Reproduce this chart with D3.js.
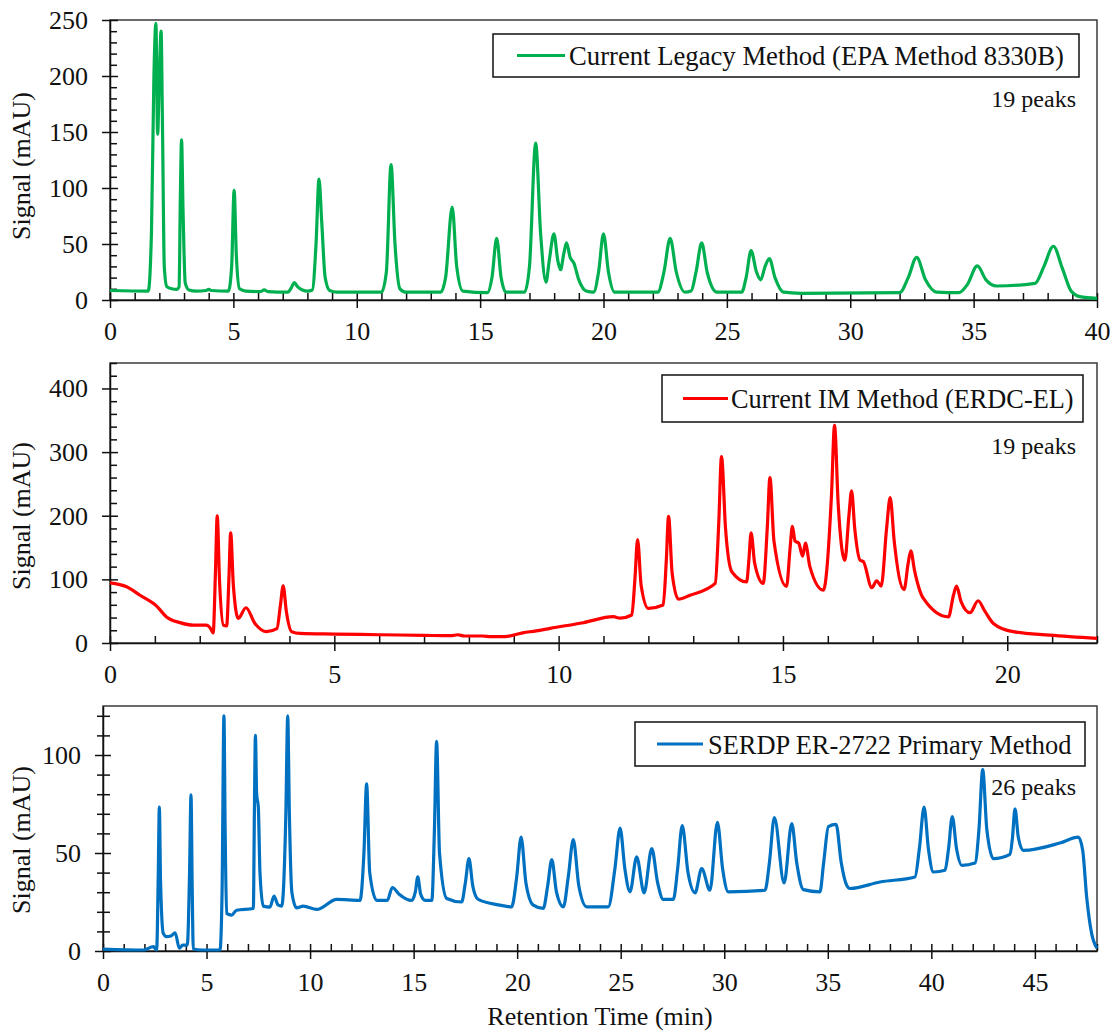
<!DOCTYPE html>
<html>
<head>
<meta charset="utf-8">
<script src="https://cdn.jsdelivr.net/npm/d3@7"></script>
<style>
  html, body { margin: 0; padding: 0; background: #fff; }
  svg { display: block; }
</style>
</head>
<body>
<svg id="chart" width="1116" height="1032"></svg>
<script>
// ---------------- DATA ----------------
// [retention time (min), signal (mAU)]
const legacyTrace = [
  [0, 8.5], [1.55, 8], [1.68, 60], [1.78, 200], [1.86, 247], [1.93, 148], [2.0, 200], [2.07, 240],
  [2.13, 150], [2.2, 30], [2.3, 12], [2.5, 10], [2.7, 9.5], [2.8, 12], [2.85, 90], [2.9, 143],
  [2.96, 80], [3.05, 15], [3.2, 9], [3.5, 8], [3.9, 8.5], [4.0, 9.5], [4.1, 8.5], [4.8, 8],
  [4.93, 30], [5.03, 98], [5.12, 40], [5.25, 10], [5.5, 8], [6.1, 7.5], [6.25, 9], [6.4, 7.5],
  [7.2, 7], [7.35, 11], [7.47, 15.5], [7.6, 12], [7.8, 9], [8.0, 8], [8.2, 9], [8.35, 50],
  [8.47, 108], [8.58, 70], [8.72, 20], [8.9, 8.5], [9.2, 7], [11.0, 7], [11.2, 25], [11.39, 121],
  [11.55, 50], [11.75, 10], [12.0, 7], [13.4, 7], [13.6, 20], [13.87, 83], [14.05, 30], [14.3, 8],
  [15.3, 6.5], [15.48, 20], [15.67, 55], [15.85, 20], [16.05, 7], [16.8, 7], [17.0, 30], [17.25, 140],
  [17.45, 60], [17.67, 16], [17.8, 35], [17.99, 59], [18.15, 35], [18.26, 27], [18.38, 40], [18.5, 51],
  [18.65, 38], [18.8, 33], [19.0, 18], [19.3, 8], [19.6, 7], [19.8, 25], [20.0, 59], [20.2, 25],
  [20.45, 7], [22.2, 7], [22.45, 25], [22.7, 55], [22.95, 25], [23.3, 7], [23.55, 8], [23.75, 25],
  [23.98, 51], [24.2, 25], [24.6, 7], [25.6, 7], [25.78, 20], [25.98, 44], [26.2, 25], [26.37, 18],
  [26.55, 30], [26.72, 37], [26.95, 20], [27.3, 7], [28, 6], [32.0, 6.5], [32.35, 20], [32.69, 38],
  [33.05, 18], [33.5, 7], [34.4, 6.5], [34.75, 14], [35.15, 30.4], [35.5, 18], [35.93, 12.5],
  [37.49, 14.9], [37.85, 30], [38.23, 48], [38.6, 28], [38.95, 8], [39.3, 3], [40, 1.5]
];

const imTrace = [
  [0, 94.6], [0.37, 88.4], [0.67, 75], [1.04, 58], [1.26, 41], [1.56, 32], [1.86, 28], [2.15, 28],
  [2.23, 24], [2.3, 16], [2.35, 110], [2.39, 200], [2.44, 100], [2.53, 28], [2.6, 27], [2.65, 100],
  [2.69, 173], [2.75, 90], [2.86, 38.7], [3.03, 55.4], [3.23, 30.8], [3.49, 17.8], [3.72, 22.5],
  [3.8, 60], [3.86, 90], [3.93, 50], [4.05, 17.8], [4.24, 15], [5, 14], [6, 13], [7, 12],
  [7.6, 11.5], [7.75, 13], [7.9, 11], [8.3, 11], [8.5, 10], [8.8, 10], [9.2, 16], [9.5, 19],
  [9.81, 23], [10.55, 31.9], [11.22, 41.3], [11.37, 39], [11.63, 44], [11.7, 100], [11.76, 162.6],
  [11.84, 90], [12.0, 54.4], [12.33, 59.6], [12.4, 130], [12.45, 199], [12.53, 110], [12.67, 69],
  [12.93, 75], [13.49, 93.6], [13.57, 190], [13.63, 293], [13.72, 180], [13.86, 112], [14.19, 96],
  [14.24, 130], [14.29, 173], [14.37, 125], [14.56, 93.6], [14.65, 180], [14.71, 260], [14.8, 160],
  [15.08, 89], [15.16, 150], [15.21, 183.5], [15.27, 160], [15.35, 157], [15.44, 136.5], [15.5, 157],
  [15.6, 120], [15.9, 83], [16.08, 230], [16.15, 342], [16.23, 220], [16.38, 130], [16.47, 200],
  [16.53, 239], [16.6, 180], [16.72, 130], [16.79, 128], [16.98, 87], [17.09, 97.7], [17.19, 89.4],
  [17.31, 180], [17.39, 228.5], [17.48, 160], [17.7, 84], [17.79, 125], [17.85, 145], [17.93, 115],
  [18.13, 70], [18.69, 41], [18.8, 75], [18.87, 89.4], [18.97, 65], [19.17, 47.6], [19.35, 66.4],
  [19.5, 50], [19.69, 30.8], [20.13, 17.8], [20.95, 12.5], [22, 7.3]
];

const serdpTrace = [
  [0, 1], [1.95, 0.5], [2.43, 2.2], [2.59, 0.5], [2.67, 40], [2.72, 73.4], [2.78, 35], [2.91, 9],
  [3.07, 7.3], [3.3, 7.8], [3.48, 9.3], [3.69, 1.4], [3.85, 3], [4.07, 3], [4.18, 40], [4.25, 79.7],
  [4.31, 30], [4.36, 1], [4.78, 0.5], [5.65, 0.5], [5.75, 30], [5.84, 120], [5.9, 60], [5.97, 19.2],
  [6.21, 18.3], [6.45, 20.8], [7.26, 21.7], [7.31, 70], [7.36, 110], [7.42, 80], [7.5, 73.4],
  [7.58, 40], [7.74, 22.9], [8.06, 22.4], [8.26, 28], [8.45, 23.5], [8.63, 22.9], [8.83, 70],
  [8.92, 120], [9.0, 70], [9.12, 30], [9.35, 22], [9.67, 22.9], [10.32, 21.2], [11.29, 26.3],
  [12.41, 25.8], [12.6, 50], [12.73, 85.3], [12.88, 40], [13.22, 25.8], [13.73, 25.8], [13.97, 32.4],
  [14.3, 29], [14.9, 25.8], [15.08, 30], [15.2, 37.8], [15.34, 29], [15.56, 25.8], [15.88, 25.8],
  [16.0, 60], [16.11, 107], [16.25, 50], [16.6, 26.8], [17.32, 25], [17.5, 35], [17.67, 47.1],
  [17.86, 33], [18.12, 26.3], [19.17, 23.4], [19.73, 22.5], [19.98, 38], [20.19, 58.1], [20.42, 35],
  [20.78, 23.4], [21.26, 21.7], [21.47, 33], [21.67, 46.6], [21.9, 30], [22.23, 22.5], [22.47, 38],
  [22.71, 56.8], [22.98, 33], [23.36, 22.5], [24.4, 22.5], [24.72, 42], [24.97, 62.7], [25.2, 42],
  [25.45, 30.2], [25.77, 48], [26.13, 29.7], [26.5, 52.2], [26.78, 35], [27.06, 26.3], [27.54, 26.3],
  [27.75, 42], [27.97, 64], [28.25, 40], [28.59, 29.7], [28.91, 42], [29.31, 31], [29.67, 65.7],
  [29.92, 42], [30.2, 30.2], [31.97, 31], [32.18, 45], [32.42, 68], [32.89, 34.7], [33.26, 65],
  [33.5, 45], [33.82, 31.3], [34.62, 30.2], [34.8, 45], [35.03, 63.5], [35.4, 64.6], [35.65, 45],
  [35.91, 33.6], [36.07, 31.9], [37.52, 35.2], [39.21, 37.8], [39.42, 52], [39.65, 73.4], [39.86, 52],
  [40.1, 40.3], [40.66, 41.2], [40.83, 52], [41.01, 68.6], [41.22, 52], [41.47, 43.7], [42.11, 44.9],
  [42.3, 62], [42.48, 92.5], [42.68, 62], [43.0, 47.1], [43.8, 49.3], [43.92, 58], [44.04, 72.5],
  [44.2, 58], [44.44, 51.3], [46.21, 55.1], [47.1, 58.1], [47.31, 51.3], [47.5, 27.6], [47.74, 9],
  [48, 1.4]
];

// axis ticks
const legacyXMajor = [0, 5, 10, 15, 20, 25, 30, 35, 40];
const legacyYMajor = [0, 50, 100, 150, 200, 250];
const imXMajor = [0, 5, 10, 15, 20];
const imYMajor = [0, 100, 200, 300, 400];
const serdpXMajor = [0, 5, 10, 15, 20, 25, 30, 35, 40, 45];
const serdpYMajor = [0, 50, 100];

const legendLabels = [
  "Current Legacy Method (EPA Method 8330B)",
  "Current IM Method (ERDC-EL)",
  "SERDP ER-2722 Primary Method"
];
const peakLabels = ["19 peaks", "19 peaks", "26 peaks"];

// ---------------- LAYOUT ----------------
const FONT = "'Liberation Serif', 'Times New Roman', Times, serif";
const svg = d3.select("#chart");

const panels = [
  {
    data: legacyTrace, color: "#00B050",
    xDomain: [0, 40], xMajor: legacyXMajor, xMinorStep: 1,
    yDomain: [0, 250], yMajor: legacyYMajor, yMinorStep: 10,
    rect: { l: 110, r: 1097, t: 20, b: 300 },
    yMinorOut: 0,
    legend: { x0: 493, x1: 1079, y0: 34, y1: 77, lx0: 517, lx1: 565, tx: 569, fs: 26.7 },
    peaksY: 107, labelCy: 166
  },
  {
    data: imTrace, color: "#FF0000",
    xDomain: [0, 22], xMajor: imXMajor, xMinorStep: 1,
    yDomain: [0, 440], yMajor: imYMajor, yMinorStep: 20,
    rect: { l: 110, r: 1097, t: 363, b: 643 },
    yMinorOut: 0,
    legend: { x0: 662, x1: 1083, y0: 375, y1: 422, lx0: 683, lx1: 728, tx: 731, fs: 26.3 },
    peaksY: 454, labelCy: 516
  },
  {
    data: serdpTrace, color: "#0070C0",
    xDomain: [0, 48], xMajor: serdpXMajor, xMinorStep: 1,
    yDomain: [0, 125], yMajor: serdpYMajor, yMinorStep: 10,
    rect: { l: 103, r: 1097, t: 706, b: 951 },
    yMinorOut: 6,
    legend: { x0: 635, x1: 1085, y0: 722, y1: 766, lx0: 657, lx1: 703, tx: 708, fs: 26.4 },
    peaksY: 795, labelCy: 840
  }
];

panels.forEach((p, i) => {
  const R = p.rect;
  const x = d3.scaleLinear().domain(p.xDomain).range([R.l, R.r]);
  const y = d3.scaleLinear().domain(p.yDomain).range([R.b, R.t]);

  const g = svg.append("g");

  // clip
  const clipId = "clip" + i;
  g.append("clipPath").attr("id", clipId)
    .append("rect").attr("x", R.l).attr("y", R.t - 2)
    .attr("width", R.r - R.l + 2).attr("height", R.b - R.t + 4);

  // frame
  g.append("rect")
    .attr("x", R.l).attr("y", R.t)
    .attr("width", R.r - R.l).attr("height", R.b - R.t)
    .attr("fill", "none").attr("stroke", "#3a3a3a").attr("stroke-width", 1.5);

  // minor ticks
  const xMinor = d3.range(p.xDomain[0], p.xDomain[1] + 1e-9, p.xMinorStep)
    .filter(v => !p.xMajor.includes(v));
  const yMinor = d3.range(p.yDomain[0], p.yDomain[1] + 1e-9, p.yMinorStep)
    .filter(v => !p.yMajor.includes(v));

  const gxMinor = g.append("g").attr("transform", `translate(0,${R.b})`)
    .call(d3.axisBottom(x).tickValues(xMinor).tickSize(-7).tickFormat(""));
  gxMinor.select(".domain").remove();

  const gyMinor = g.append("g").attr("transform", `translate(${R.l},0)`)
    .call(d3.axisLeft(y).tickValues(yMinor).tickSize(-7).tickFormat(""));
  gyMinor.select(".domain").remove();
  gyMinor.selectAll(".tick line").attr("x1", -p.yMinorOut).attr("x2", 7);

  // major axes
  const gx = g.append("g").attr("transform", `translate(0,${R.b})`)
    .call(d3.axisBottom(x).tickValues(p.xMajor).tickSize(8).tickPadding(13.5).tickSizeOuter(0));
  gx.selectAll(".tick line").attr("y1", -7).attr("y2", 8);

  const gy = g.append("g").attr("transform", `translate(${R.l},0)`)
    .call(d3.axisLeft(y).tickValues(p.yMajor).tickSize(8).tickPadding(14).tickSizeOuter(0));
  gy.selectAll(".tick line").attr("x1", 8);

  [gx, gy, gxMinor, gyMinor].forEach(a => {
    a.attr("font-family", FONT).attr("font-size", 26);
    a.selectAll("line").attr("stroke", "#111").attr("stroke-width", 1.5);
    a.selectAll(".domain").attr("stroke", "#111").attr("stroke-width", 1.5);
    a.selectAll("text").attr("fill", "#111");
  });

  // data line
  const line = d3.line()
    .x(d => x(d[0])).y(d => y(d[1]))
    .curve(d3.curveMonotoneX);
  g.append("path")
    .datum(p.data)
    .attr("clip-path", `url(#${clipId})`)
    .attr("d", line)
    .attr("fill", "none")
    .attr("stroke", p.color)
    .attr("stroke-width", 3.2)
    .attr("stroke-linejoin", "round");

  // legend
  const L = p.legend;
  const cy = (L.y0 + L.y1) / 2;
  g.append("rect")
    .attr("x", L.x0).attr("y", L.y0)
    .attr("width", L.x1 - L.x0).attr("height", L.y1 - L.y0)
    .attr("fill", "#fff").attr("stroke", "#111").attr("stroke-width", 1.5);
  g.append("line")
    .attr("x1", L.lx0).attr("x2", L.lx1).attr("y1", cy).attr("y2", cy)
    .attr("stroke", p.color).attr("stroke-width", 3.2);
  g.append("text")
    .attr("x", L.tx).attr("y", cy + 9.5)
    .attr("font-family", FONT).attr("font-size", L.fs).attr("fill", "#111")
    .text(legendLabels[i]);

  // peaks annotation
  g.append("text")
    .attr("x", 1076).attr("y", p.peaksY)
    .attr("text-anchor", "end")
    .attr("font-family", FONT).attr("font-size", 24).attr("fill", "#111")
    .text(peakLabels[i]);

  // y label
  g.append("text")
    .attr("transform", `translate(30,${p.labelCy}) rotate(-90)`)
    .attr("text-anchor", "middle")
    .attr("font-family", FONT).attr("font-size", 26).attr("fill", "#111")
    .text("Signal (mAU)");
});

// x label
svg.append("text")
  .attr("x", 600).attr("y", 1025)
  .attr("text-anchor", "middle")
  .attr("font-family", FONT).attr("font-size", 26).attr("fill", "#111")
  .text("Retention Time (min)");
</script>
</body>
</html>
